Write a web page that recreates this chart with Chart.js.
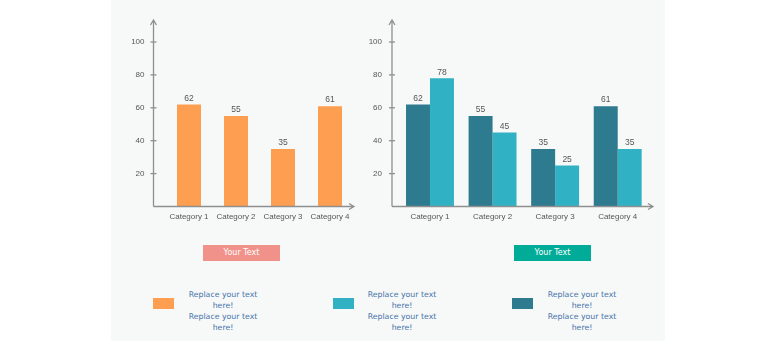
<!DOCTYPE html>
<html>
<head>
<meta charset="utf-8">
<script src="https://cdn.jsdelivr.net/npm/chart.js@4/dist/chart.umd.min.js"></script>
<style>
  html, body { margin: 0; padding: 0; background: #ffffff; }
  body { width: 780px; height: 350px; position: relative; overflow: hidden; font-family: "Liberation Sans", Arial, sans-serif; }
  #panel { position: absolute; left: 111px; top: 0; width: 554px; height: 341px; background: #f7f9f9; }
  canvas.chart { position: absolute; left: 0; top: 0; }
  .tbox { position: absolute; top: 245px; height: 16px; width: 77px; color: #fff; font: 8px "Comic Sans MS", "DejaVu Sans", sans-serif; line-height: 16px; text-align: center; }
  .sw { position: absolute; top: 298px; width: 21px; height: 11px; }
  .lt { position: absolute; top: 289px; width: 100px; text-align: center; color: #4472a8; font: 7.8px "Comic Sans MS", "DejaVu Sans", sans-serif; line-height: 11px; }
</style>
</head>
<body>
<div id="panel"></div>
<canvas id="c1" class="chart" width="780" height="240"></canvas>
<canvas id="c2" class="chart" width="780" height="240"></canvas>
<div class="tbox" style="left:203px;background:#f0918a;">Your Text</div>
<div class="tbox" style="left:514px;background:#00ab98;">Your Text</div>
<div class="sw" style="left:153px;background:#fd9e51;"></div>
<div class="sw" style="left:333px;background:#31b2c4;"></div>
<div class="sw" style="left:512px;background:#2e7a8e;"></div>
<div class="lt" style="left:173px;">Replace your text<br>here!<br>Replace your text<br>here!</div>
<div class="lt" style="left:352px;">Replace your text<br>here!<br>Replace your text<br>here!</div>
<div class="lt" style="left:532px;">Replace your text<br>here!<br>Replace your text<br>here!</div>
<script>
const categories = ["Category 1", "Category 2", "Category 3", "Category 4"];
const leftValues = [62, 55, 35, 61];
const rightSeriesA = [62, 55, 35, 61];
const rightSeriesB = [78, 45, 25, 35];
const yTicks = [20, 40, 60, 80, 100];

const axisPlugin = {
  id: 'axisDraw',
  afterDatasetsDraw(chart, args, opts) {
    const ctx = chart.ctx;
    const xs = chart.scales.x, ys = chart.scales.y;
    const ax = opts.axisX, zeroY = ys.getPixelForValue(0);
    ctx.save();
    ctx.strokeStyle = '#8f8f8f';
    ctx.lineWidth = 1.3;
    ctx.beginPath();
    ctx.moveTo(ax, zeroY); ctx.lineTo(ax, opts.topY);
    ctx.moveTo(ax - 3, opts.topY + 5); ctx.lineTo(ax, opts.topY); ctx.lineTo(ax + 3, opts.topY + 5);
    ctx.moveTo(ax, zeroY); ctx.lineTo(opts.rightX, zeroY);
    ctx.moveTo(opts.rightX - 5, zeroY - 3); ctx.lineTo(opts.rightX, zeroY); ctx.lineTo(opts.rightX - 5, zeroY + 3);
    ctx.stroke();
    ctx.fillStyle = '#555';
    ctx.font = '8px "Liberation Sans", Arial, sans-serif';
    ctx.textAlign = 'right';
    ctx.textBaseline = 'middle';
    yTicks.forEach(t => {
      const y = ys.getPixelForValue(t);
      ctx.beginPath(); ctx.moveTo(ax - 3, y); ctx.lineTo(ax + 3, y); ctx.stroke();
      ctx.fillText(String(t), ax - opts.labelGap, y);
    });
    ctx.textAlign = 'center';
    categories.forEach((c, i) => {
      ctx.fillText(c, xs.getPixelForValue(i), zeroY + 10);
    });
    ctx.font = '8.5px "Liberation Sans", Arial, sans-serif';
    chart.data.datasets.forEach((ds, di) => {
      const meta = chart.getDatasetMeta(di);
      meta.data.forEach((bar, i) => {
        ctx.fillText(String(ds.data[i]), bar.x, bar.y - 6);
      });
    });
    ctx.restore();
  }
};

function makeChart(id, datasets, pad, plugOpts, catPct, barPct) {
  return new Chart(document.getElementById(id), {
    type: 'bar',
    data: { labels: categories, datasets },
    options: {
      responsive: false,
      animation: false,
      events: [],
      layout: { padding: pad },
      plugins: { legend: { display: false }, tooltip: { enabled: false }, axisDraw: plugOpts },
      datasets: { bar: { categoryPercentage: catPct, barPercentage: barPct } },
      scales: {
        x: { display: false },
        y: { display: false, min: 0, max: 100 }
      }
    },
    plugins: [axisPlugin]
  });
}

makeChart('c1',
  [{ data: leftValues, backgroundColor: '#fd9e51', borderWidth: 0 }],
  { left: 165.5, right: 426.5, top: 42, bottom: 33.5 },
  { axisX: 153.5, topY: 20, rightX: 354, labelGap: 9 },
  1, 0.51);

makeChart('c2',
  [{ data: rightSeriesA, backgroundColor: '#2e7a8e', borderWidth: 0 },
   { data: rightSeriesB, backgroundColor: '#31b2c4', borderWidth: 0 }],
  { left: 398.7, right: 131, top: 42, bottom: 33.5 },
  { axisX: 392, topY: 20, rightX: 653, labelGap: 10 },
  0.766, 1);
</script>
</body>
</html>
